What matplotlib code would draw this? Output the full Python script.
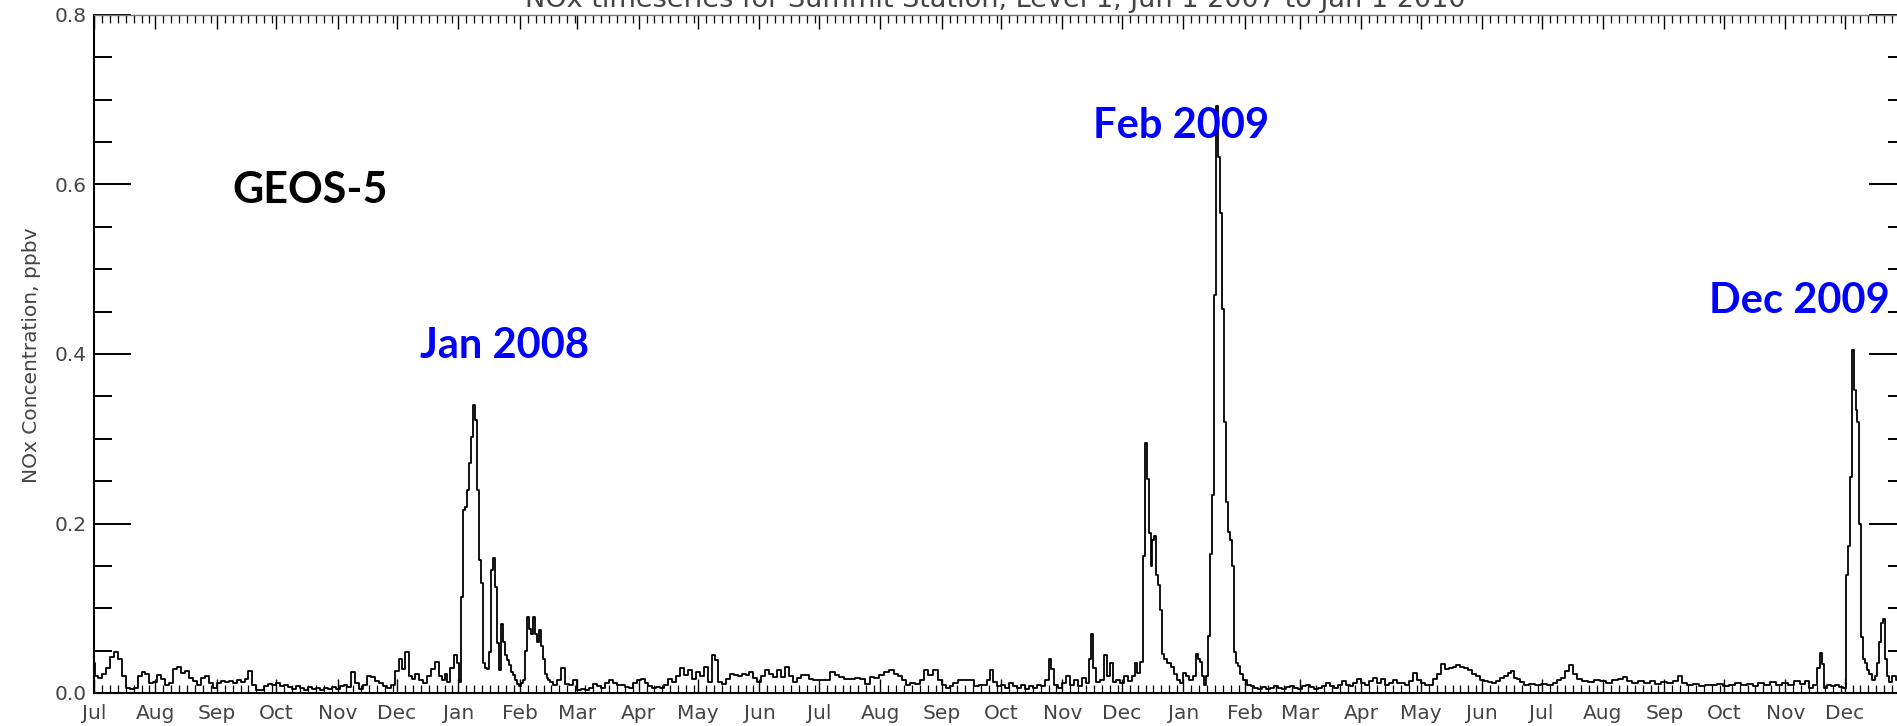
import numpy as np
import pandas as pd
import matplotlib
matplotlib.use("Agg")
import matplotlib.pyplot as plt
import matplotlib.dates as mdates
from matplotlib.ticker import MultipleLocator

# NOx at Summit, (day since 2007-07-01, ppbv)
jul_dec_2007 = [(0, 0.035), (1, 0.02), (3, 0.018), (5, 0.022), (7, 0.03), (9, 0.042), (11, 0.048),
                (13, 0.04), (15, 0.02), (17, 0.006), (19, 0.005), (21, 0.006), (23, 0.02), (25, 0.025),
                (27, 0.022), (29, 0.012), (31, 0.013), (33, 0.021), (35, 0.016), (37, 0.01), (39, 0.012),
                (41, 0.028), (43, 0.031), (45, 0.024), (47, 0.026), (49, 0.018), (51, 0.014), (53, 0.01),
                (55, 0.018), (57, 0.02), (59, 0.012), (61, 0.006), (63, 0.012), (65, 0.014), (67, 0.013),
                (69, 0.014), (71, 0.012), (73, 0.015), (75, 0.013), (77, 0.016), (79, 0.026), (81, 0.01),
                (83, 0.004), (85, 0.003), (87, 0.008), (89, 0.011), (91, 0.009), (93, 0.012), (95, 0.008),
                (97, 0.01), (99, 0.007), (101, 0.005), (103, 0.008), (105, 0.006), (107, 0.004), (109, 0.007),
                (111, 0.005), (113, 0.006), (115, 0.004), (117, 0.006), (119, 0.005), (121, 0.007),
                (123, 0.005), (125, 0.008), (127, 0.009), (129, 0.007), (131, 0.025), (133, 0.012),
                (135, 0.005), (137, 0.01), (139, 0.02), (141, 0.019), (143, 0.014), (145, 0.012),
                (147, 0.008), (149, 0.006), (151, 0.01), (153, 0.026), (155, 0.04), (156, 0.028),
                (158, 0.048), (160, 0.02), (161, 0.017), (163, 0.022), (165, 0.015), (167, 0.012),
                (169, 0.02), (171, 0.028), (173, 0.037), (175, 0.02), (176, 0.015), (178, 0.022),
                (179, 0.013), (181, 0.03), (183, 0.045), (184, 0.035), (185, 0.013)]

jan_feb_2008 = [(186, 0.113), (187, 0.216), (188, 0.22), (189, 0.24), (190, 0.271), (191, 0.302),
                (192, 0.34), (193, 0.322), (194, 0.24), (195, 0.157), (196, 0.13), (197, 0.035),
                (198, 0.03), (199, 0.028), (200, 0.048), (201, 0.145), (202, 0.159), (203, 0.125),
                (204, 0.059), (205, 0.027), (206, 0.082), (207, 0.06), (208, 0.045), (209, 0.039),
                (210, 0.033), (211, 0.025), (212, 0.021), (213, 0.015), (214, 0.011), (215, 0.008),
                (216, 0.012), (217, 0.015), (218, 0.05), (219, 0.09), (220, 0.075), (221, 0.07),
                (222, 0.09), (223, 0.07), (224, 0.06), (225, 0.074), (226, 0.056), (227, 0.04),
                (228, 0.023), (229, 0.018), (230, 0.015), (231, 0.013), (233, 0.009), (235, 0.015),
                (237, 0.029), (239, 0.011), (241, 0.009), (243, 0.015), (245, 0.004)]

mar_dec_2008 = [(247, 0.005), (249, 0.004), (251, 0.006), (253, 0.011), (255, 0.008), (257, 0.006),
                (259, 0.012), (261, 0.015), (263, 0.012), (265, 0.01), (267, 0.009), (269, 0.007),
                (271, 0.006), (273, 0.012), (275, 0.015), (277, 0.016), (279, 0.012), (281, 0.008),
                (283, 0.006), (285, 0.007), (287, 0.006), (289, 0.01), (291, 0.016), (293, 0.013),
                (295, 0.02), (297, 0.029), (299, 0.021), (301, 0.027), (303, 0.017), (305, 0.025),
                (307, 0.02), (309, 0.031), (311, 0.013), (313, 0.045), (314, 0.039), (316, 0.013),
                (318, 0.011), (320, 0.016), (322, 0.023), (324, 0.021), (326, 0.02), (328, 0.022),
                (330, 0.021), (332, 0.025), (334, 0.018), (336, 0.013), (338, 0.02), (340, 0.027),
                (342, 0.022), (344, 0.019), (346, 0.027), (348, 0.019), (350, 0.031), (352, 0.02),
                (354, 0.013), (356, 0.018), (358, 0.021), (360, 0.021), (362, 0.017), (364, 0.015),
                (367, 0.015), (370, 0.015), (373, 0.025), (375, 0.021), (377, 0.019), (380, 0.017),
                (383, 0.016), (386, 0.018), (388, 0.017), (391, 0.011), (393, 0.019), (395, 0.018),
                (398, 0.021), (400, 0.025), (403, 0.027), (405, 0.023), (407, 0.02), (409, 0.015),
                (411, 0.01), (413, 0.012), (416, 0.011), (418, 0.015), (420, 0.027), (422, 0.021),
                (425, 0.027), (427, 0.015), (429, 0.01), (431, 0.006), (433, 0.008), (435, 0.012),
                (438, 0.015), (441, 0.015), (443, 0.015), (446, 0.008), (448, 0.009), (450, 0.01),
                (452, 0.015), (453, 0.027), (455, 0.013), (457, 0.008), (459, 0.01), (461, 0.006),
                (463, 0.012), (465, 0.008), (467, 0.006), (469, 0.01), (471, 0.005), (473, 0.008),
                (475, 0.006), (477, 0.01), (479, 0.008), (481, 0.015), (483, 0.04), (484, 0.028),
                (486, 0.01), (488, 0.006), (490, 0.012), (492, 0.02), (494, 0.01), (496, 0.015),
                (498, 0.008), (500, 0.018), (502, 0.012), (503, 0.04), (504, 0.07), (505, 0.03),
                (507, 0.013), (509, 0.015), (511, 0.045), (512, 0.02), (514, 0.035), (515, 0.013),
                (517, 0.015), (519, 0.012), (521, 0.02), (523, 0.014), (525, 0.02), (526, 0.035),
                (527, 0.024), (529, 0.037)]

dec08_feb09 = [(530, 0.162), (531, 0.295), (532, 0.252), (533, 0.189), (534, 0.15), (535, 0.18),
               (536, 0.185), (537, 0.139), (538, 0.128), (539, 0.098), (540, 0.046), (541, 0.04),
               (543, 0.035), (545, 0.031), (546, 0.022), (548, 0.015), (549, 0.012), (551, 0.024),
               (552, 0.02), (554, 0.015), (556, 0.02), (557, 0.046), (558, 0.04), (559, 0.037),
               (560, 0.02), (561, 0.01), (562, 0.02), (563, 0.067), (564, 0.164), (565, 0.234),
               (566, 0.47), (567, 0.693), (568, 0.632), (569, 0.566), (570, 0.453), (571, 0.32),
               (572, 0.225), (573, 0.19), (574, 0.18), (575, 0.15), (576, 0.048), (577, 0.035),
               (578, 0.032), (579, 0.022), (581, 0.015), (583, 0.01), (585, 0.008), (587, 0.006)]

feb_nov_2009 = [(589, 0.005), (591, 0.007), (593, 0.005), (595, 0.006), (597, 0.008), (599, 0.006),
                (601, 0.005), (603, 0.007), (605, 0.008), (607, 0.006), (609, 0.005), (611, 0.008),
                (613, 0.01), (615, 0.007), (617, 0.005), (619, 0.006), (621, 0.008), (623, 0.012),
                (625, 0.008), (627, 0.006), (629, 0.01), (631, 0.014), (633, 0.01), (635, 0.008),
                (637, 0.012), (639, 0.016), (641, 0.012), (643, 0.01), (645, 0.014), (647, 0.018),
                (649, 0.012), (651, 0.016), (653, 0.01), (655, 0.012), (657, 0.015), (659, 0.012),
                (661, 0.012), (663, 0.01), (665, 0.014), (667, 0.024), (669, 0.015), (671, 0.012),
                (673, 0.01), (675, 0.01), (677, 0.016), (679, 0.022), (681, 0.034), (683, 0.028),
                (685, 0.03), (687, 0.031), (689, 0.033), (691, 0.031), (693, 0.029), (695, 0.027),
                (697, 0.022), (699, 0.02), (701, 0.015), (703, 0.014), (705, 0.013), (707, 0.012),
                (709, 0.014), (711, 0.018), (713, 0.02), (715, 0.024), (716, 0.026), (718, 0.018),
                (719, 0.016), (721, 0.013), (723, 0.01), (726, 0.011), (729, 0.009), (732, 0.011),
                (735, 0.01), (738, 0.012), (740, 0.015), (742, 0.018), (744, 0.026), (746, 0.033),
                (748, 0.022), (750, 0.016), (753, 0.014), (756, 0.013), (759, 0.015), (762, 0.014),
                (765, 0.012), (768, 0.015), (771, 0.016), (773, 0.019), (775, 0.014), (778, 0.012),
                (781, 0.014), (784, 0.012), (787, 0.014), (790, 0.011), (793, 0.013), (796, 0.012),
                (799, 0.014), (801, 0.02), (803, 0.012), (806, 0.009), (809, 0.011), (812, 0.008),
                (815, 0.01), (818, 0.009), (821, 0.011), (824, 0.008), (827, 0.01), (830, 0.012),
                (833, 0.009), (836, 0.011), (839, 0.008), (842, 0.012), (845, 0.01), (848, 0.013),
                (851, 0.009), (854, 0.012), (857, 0.01), (860, 0.014), (863, 0.011), (865, 0.014),
                (867, 0.006), (869, 0.01), (871, 0.03), (872, 0.047), (873, 0.034), (874, 0.006),
                (876, 0.01), (878, 0.008), (880, 0.01), (882, 0.007), (884, 0.006)]

dec_2009 = [(885, 0.139), (886, 0.173), (887, 0.255), (888, 0.405), (889, 0.357), (890, 0.334),
            (891, 0.32), (892, 0.2), (893, 0.066), (894, 0.04), (895, 0.035), (896, 0.027),
            (897, 0.022), (899, 0.015), (900, 0.02), (901, 0.035), (902, 0.06), (903, 0.083),
            (904, 0.087), (905, 0.04), (906, 0.02), (907, 0.013), (909, 0.02), (911, 0.015),
            (913, 0.01), (915, 0.012)]

month_names = ["Jul", "Aug", "Sep", "Oct", "Nov", "Dec", "Jan", "Feb", "Mar", "Apr", "May", "Jun"]
title = "NOx timeseries for Summit Station, Level 1, Jun 1 2007 to Jan 1 2010"
ylab = "NOx Concentration, ppbv"

pts = np.array(jul_dec_2007 + jan_feb_2008 + mar_dec_2008 + dec08_feb09 + feb_nov_2009 + dec_2009)
start = np.datetime64("2007-07-01")
dates = start + pts[:, 0].astype("timedelta64[D]")
nox = pts[:, 1]

W, H = 1897, 726
fig = plt.figure(figsize=(W / 100, H / 100), dpi=100)
ax = fig.add_axes([94 / W, 33 / H, 1812 / W, 678 / H])

ax.plot(dates, nox, color="black", lw=1.3, drawstyle="steps-mid")

ax.set_xlim(start, np.datetime64("2010-01-01"))
ax.set_ylim(0, 0.8)

gray = "#444444"
months = pd.date_range("2007-07-01", "2010-01-01", freq="MS")
labels = [month_names[i % 12] for i in range(len(months) - 1)] + [""]
ax.set_xticks(months)
ax.set_xticklabels(labels)
ax.xaxis.set_minor_locator(mdates.DayLocator(bymonthday=[5, 9, 13, 17, 21, 25, 29]))
ax.yaxis.set_major_locator(MultipleLocator(0.2))
ax.yaxis.set_minor_locator(MultipleLocator(0.05))
ax.yaxis.set_major_formatter(matplotlib.ticker.FormatStrFormatter("%.1f"))

ax.tick_params(axis="x", which="both", direction="in", top=True, bottom=True, color="black")
ax.tick_params(axis="x", which="major", length=10, width=1.0, labelsize=14.5, labelcolor=gray, pad=8)
ax.tick_params(axis="x", which="minor", length=5.5, width=0.9)
ax.tick_params(axis="y", which="both", direction="in", left=True, right=True, color="black")
ax.tick_params(axis="y", which="major", length=26.5, width=1.4, labelsize=14.5, labelcolor=gray, pad=5)
ax.tick_params(axis="y", which="minor", length=13, width=1.4)

for s in ["left", "bottom", "right"]:
    ax.spines[s].set_linewidth(1.5)
ax.spines["top"].set_linewidth(1.0)
ax.spines["top"].set_color("#777777")

fig.text(32 / W, 1 - 355 / H, ylab, rotation=90, ha="center", va="center", fontsize=14.5, color=gray)
# title sits mostly above the cropped top edge, as in the original
fig.text(995 / W, 1 - 7 / H, title, ha="center", va="baseline", fontsize=19.5, color=gray)

fig.text(310 / W, 1 - 203 / H, "GEOS-5", ha="center", va="baseline",
         fontsize=31, fontweight="bold", family="Lato", color="black")
blue = "#0000ff"
for txt, cx, base in [("Jan 2008", 505, 358), ("Feb 2009", 1181, 138), ("Dec 2009", 1799, 313)]:
    fig.text(cx / W, 1 - base / H, txt, ha="center", va="baseline",
             fontsize=30, fontweight="bold", family="Lato", color=blue)

fig.savefig("out.png", dpi=100)
